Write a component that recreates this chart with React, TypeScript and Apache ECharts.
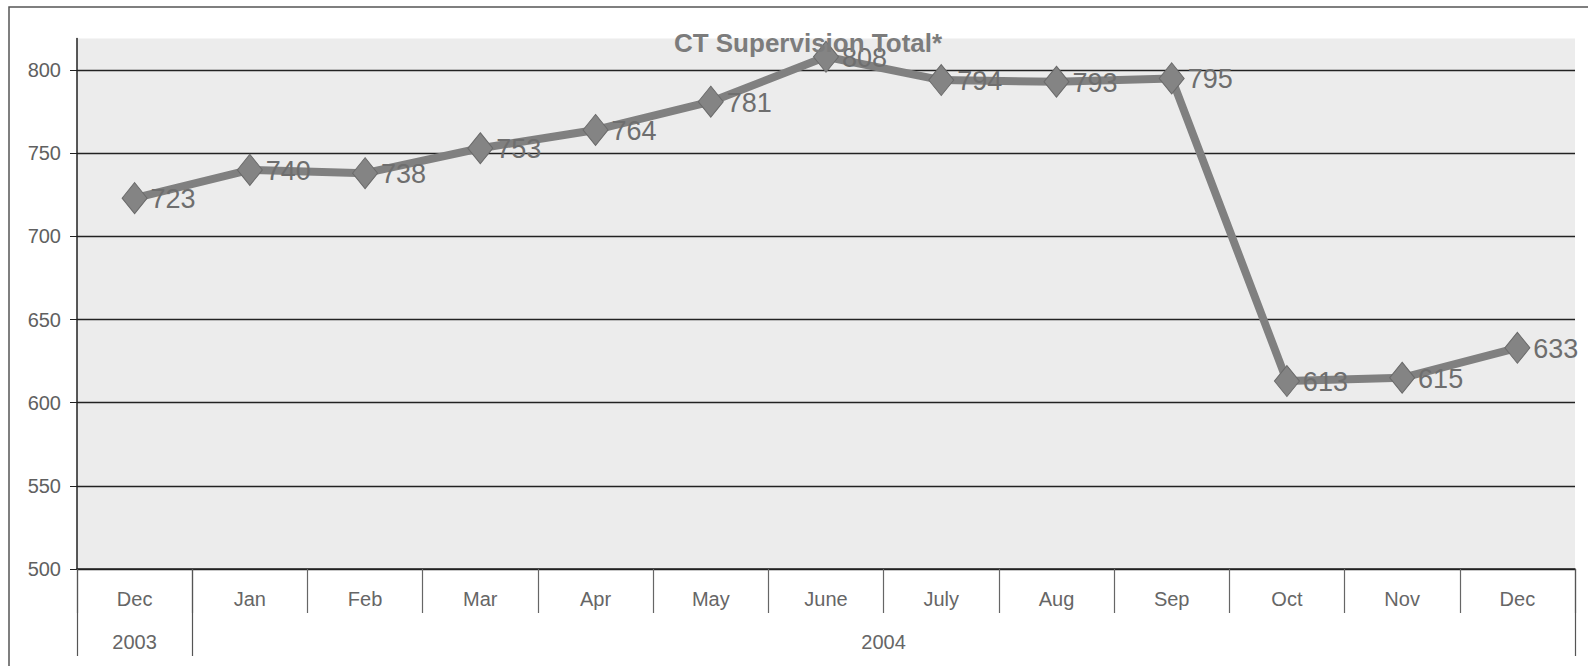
import React, { useEffect, useRef } from "react";
import * as echarts from "echarts";

const months = ["Dec", "Jan", "Feb", "Mar", "Apr", "May", "June", "July", "Aug", "Sep", "Oct", "Nov", "Dec"];
const years = ["2003", "2004"];
const values = [723, 740, 738, 753, 764, 781, 808, 794, 793, 795, 613, 615, 633];
const yMin = 500;
const yMax = 819;
const yStep = 50;
const title = "CT Supervision Total*";

// half-month slots for the year row: boundaries at 0, 2, 26; year centres at 1 and 14
const yearSlots: string[] = Array.from({ length: months.length * 2 + 1 }, (_, i) =>
  i === 1 ? years[0] : i === months.length + 1 ? years[1] : ""
);

export default function App() {
  const ref = useRef<HTMLDivElement>(null);
  useEffect(() => {
    if (!ref.current) return;
    const chart = echarts.init(ref.current, null, { renderer: "svg" });
    const font = "'Liberation Sans', Arial, sans-serif";
    chart.setOption({
      animation: false,
      backgroundColor: "#ffffff",
      title: {
        text: title,
        left: 803,
        top: 25,
        textAlign: "center",
        textStyle: { fontFamily: font, fontSize: 26, fontWeight: "bold", color: "#7c7c7c" },
      },
      graphic: [
        {
          type: "rect",
          shape: { x: 9, y: 7, width: 1620, height: 700 },
          style: { fill: "none", stroke: "#555", lineWidth: 1.5 },
          z: -1,
        },
      ],
      grid: {
        left: 77,
        right: 13,
        top: 38.5,
        bottom: 97,
        show: true,
        backgroundColor: "#ececec",
        borderWidth: 0,
        containLabel: false,
      },
      xAxis: [
        {
          type: "category",
          data: months,
          boundaryGap: true,
          axisLine: { show: true, lineStyle: { color: "#222", width: 1.5 } },
          axisTick: { show: true, interval: 0, length: 44, lineStyle: { color: "#666", width: 1.2 } },
          axisLabel: { interval: 0, margin: 20, fontFamily: font, fontSize: 20, color: "#666" },
          splitLine: { show: false },
        },
        {
          type: "category",
          data: yearSlots,
          boundaryGap: false,
          position: "bottom",
          axisLine: { show: false },
          axisTick: {
            show: true,
            length: 87,
            interval: (i: number) => i === 0 || i === 2 || i === months.length * 2,
            lineStyle: { color: "#555", width: 1.2 },
          },
          axisLabel: { interval: 0, margin: 63, fontFamily: font, fontSize: 20, color: "#666" },
          splitLine: { show: false },
        },
      ],
      yAxis: {
        type: "value",
        min: yMin,
        max: yMax,
        interval: yStep,
        axisLine: { show: true, lineStyle: { color: "#222", width: 1.5 } },
        axisTick: { show: true, length: 7, lineStyle: { color: "#222" } },
        axisLabel: { showMaxLabel: false, margin: 16, fontFamily: font, fontSize: 20, color: "#606060" },
        splitLine: { show: true, showMaxLine: false, lineStyle: { color: "#222", width: 1.3 } },
      },
      series: [
        {
          type: "line",
          xAxisIndex: 0,
          data: values,
          symbol: "diamond",
          symbolSize: [25, 31],
          lineStyle: { color: "#808080", width: 8 },
          itemStyle: { color: "#848484", borderColor: "#6a6a6a", borderWidth: 1 },
          label: {
            show: true,
            position: "right",
            distance: 3,
            offset: [0, 1],
            fontFamily: font,
            fontSize: 27,
            color: "#6e6e6e",
          },
          z: 3,
        },
      ],
    });
    return () => chart.dispose();
  }, []);
  return (
    <div
      ref={ref}
      style={{ position: "fixed", left: 0, top: 0, width: 1588, height: 666 }}
    />
  );
}
